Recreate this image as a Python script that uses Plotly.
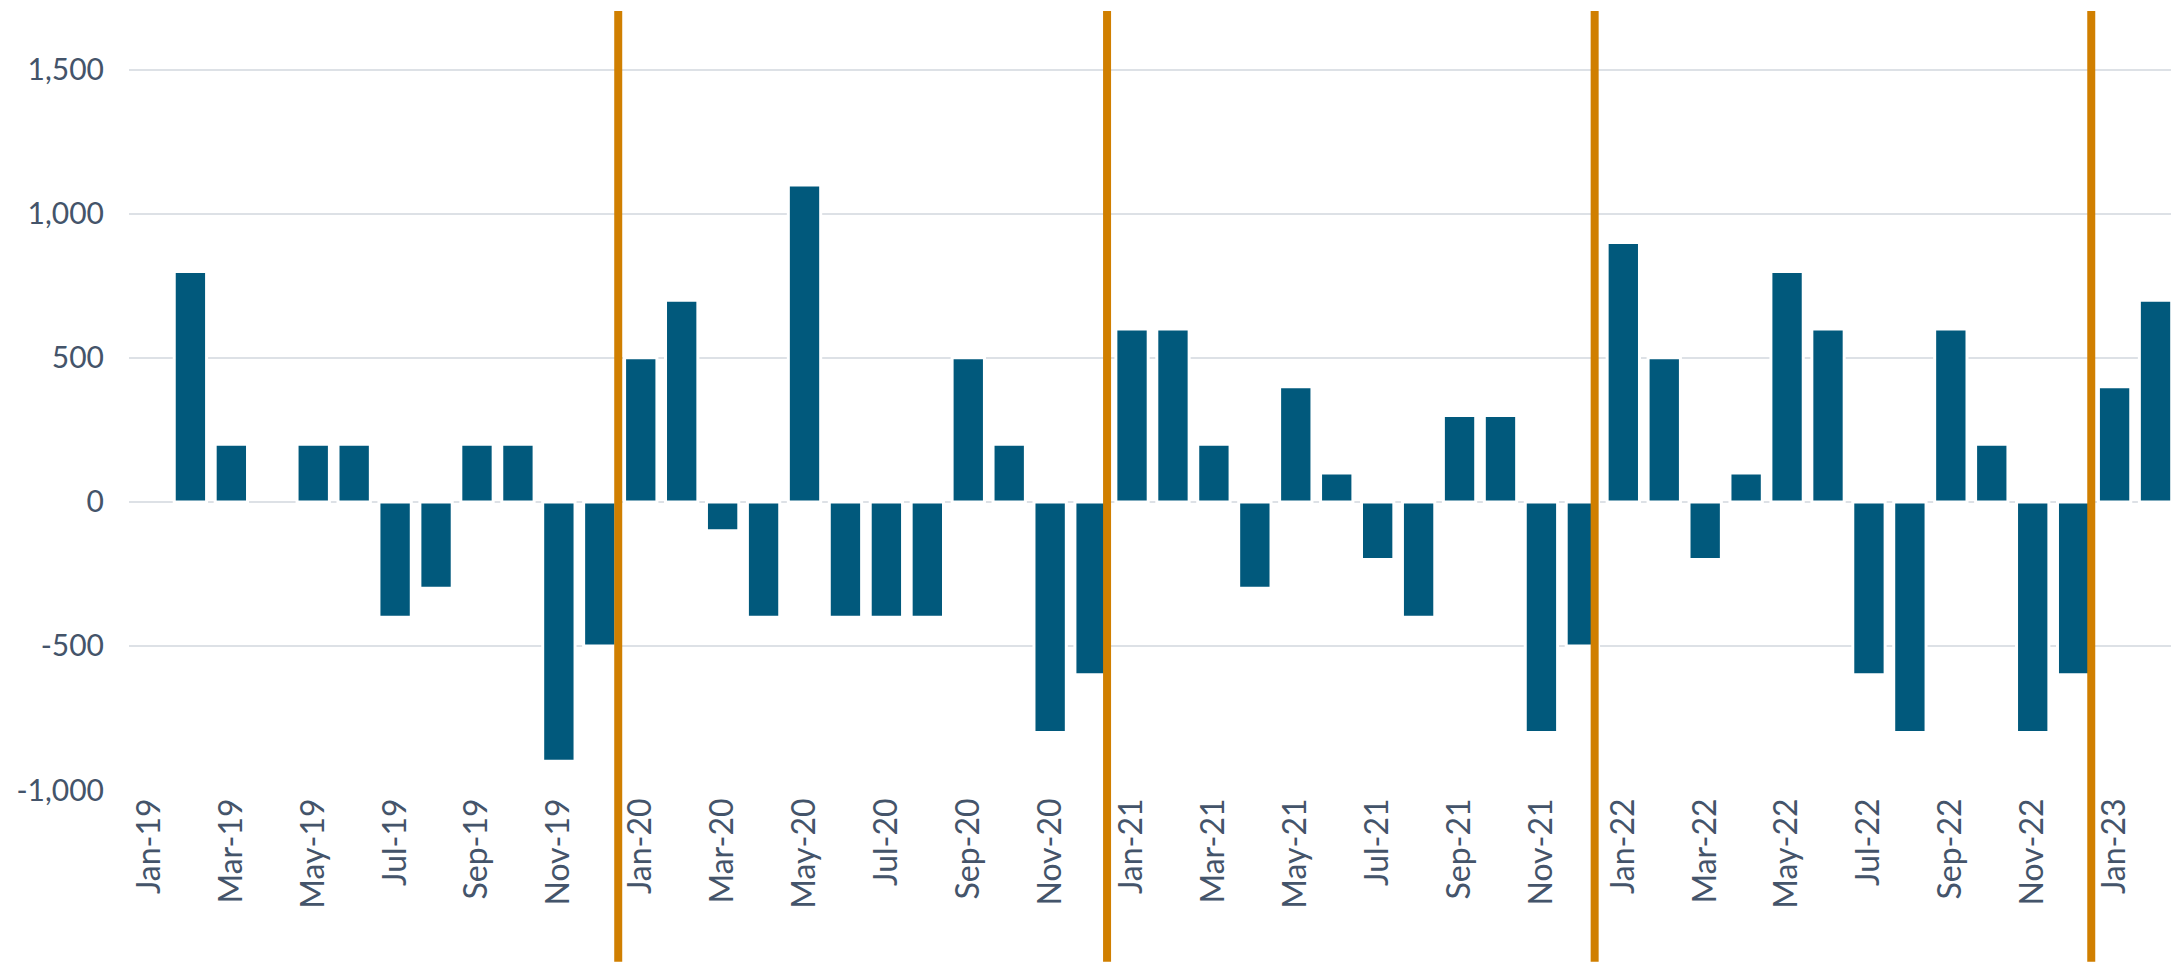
import plotly.graph_objects as go

months = [
    "Jan-19", "Feb-19", "Mar-19", "Apr-19", "May-19", "Jun-19", "Jul-19", "Aug-19", "Sep-19", "Oct-19", "Nov-19", "Dec-19",
    "Jan-20", "Feb-20", "Mar-20", "Apr-20", "May-20", "Jun-20", "Jul-20", "Aug-20", "Sep-20", "Oct-20", "Nov-20", "Dec-20",
    "Jan-21", "Feb-21", "Mar-21", "Apr-21", "May-21", "Jun-21", "Jul-21", "Aug-21", "Sep-21", "Oct-21", "Nov-21", "Dec-21",
    "Jan-22", "Feb-22", "Mar-22", "Apr-22", "May-22", "Jun-22", "Jul-22", "Aug-22", "Sep-22", "Oct-22", "Nov-22", "Dec-22",
    "Jan-23", "Feb-23",
]

values = [
    0, 800, 200, 0, 200, 200, -400, -300, 200, 200, -900, -500,
    500, 700, -100, -400, 1100, -400, -400, -400, 500, 200, -800, -600,
    600, 600, 200, -300, 400, 100, -200, -400, 300, 300, -800, -500,
    900, 500, -200, 100, 800, 600, -600, -800, 600, 200, -800, -600,
    400, 700,
]

y_tick_vals = [-1000, -500, 0, 500, 1000, 1500]
y_tick_text = ["-1,000", "-500", "0", "500", "1,000", "1,500"]
x_tick_labels = months[::2]

# year separators: drawn just after each December
divider_after = ["Dec-19", "Dec-20", "Dec-21", "Dec-22"]
divider_shift = [0.45, 0.39, 0.30, 0.43]

BAR = "#01597C"
ORANGE = "#D07F00"
TEXT = "#44546A"
GRID = "#DDE1E6"
FONT = "Lato"

# no white outline on zero-height bars (so the zero gridline stays intact)
outline_widths = [0 if v == 0 else 3 for v in values]

fig = go.Figure()
fig.add_trace(go.Bar(
    x=months,
    y=values,
    marker=dict(color=BAR, line=dict(color="white", width=outline_widths)),
    hoverinfo="x+y",
))

idx = {m: i for i, m in enumerate(months)}
for m, s in zip(divider_after, divider_shift):
    xpos = idx[m] + s
    fig.add_shape(
        type="line", xref="x", yref="paper",
        x0=xpos, x1=xpos, y0=-0.2205, y1=1.0,
        line=dict(color=ORANGE, width=8),
        layer="above",
    )

# page body has an 8px margin, so the figure is sized to fit the window
fig.update_layout(
    width=2171,
    height=955,
    margin=dict(l=120.8, r=3.2, t=3, b=172.8, autoexpand=False),
    paper_bgcolor="white",
    plot_bgcolor="white",
    showlegend=False,
    bargap=0.21,
    font=dict(family=FONT, color=TEXT, size=30),
)

fig.update_xaxes(
    type="category",
    categoryorder="array",
    categoryarray=months,
    tickmode="array",
    tickvals=x_tick_labels,
    ticktext=x_tick_labels,
    tickangle=-90,
    tickfont=dict(family=FONT, color=TEXT, size=32),
    showgrid=False,
    showline=False,
    zeroline=False,
    ticks="",
    ticklabelstandoff=1,
    automargin=False,
    range=[-0.5, len(months) - 0.5],
)

fig.update_yaxes(
    range=[-1000, 1703.7],
    tickmode="array",
    tickvals=y_tick_vals,
    ticktext=y_tick_text,
    tickfont=dict(family=FONT, color=TEXT, size=30),
    showgrid=True,
    gridcolor=GRID,
    gridwidth=1.5,
    zeroline=False,
    showline=False,
    ticks="",
    ticklabelstandoff=24,
    automargin=False,
)

fig.write_html("out.html")
